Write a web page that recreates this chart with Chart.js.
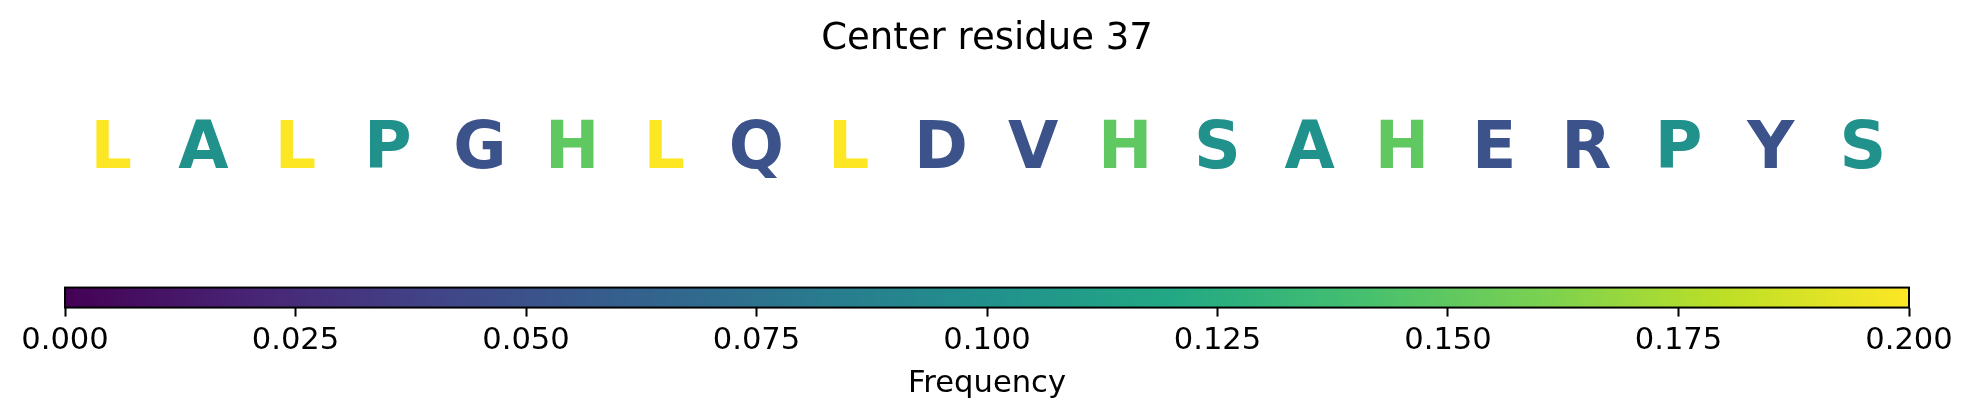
<!DOCTYPE html>
<html>
<head>
<meta charset="utf-8">
<script src="https://cdn.jsdelivr.net/npm/chart.js@4"></script>
<style>
  html, body { margin: 0; padding: 0; background: #fff; }
  canvas { display: block; }
</style>
</head>
<body>
<canvas id="logoChart" width="1973" height="416"></canvas>
<script>
// residues around center 37
const residues = ["L", "A", "L", "P", "G", "H", "L", "Q", "L", "D", "V", "H", "S", "A", "H", "E", "R", "P", "Y", "S"];
// frequency of each residue in the window
const frequencies = [0.2, 0.1, 0.2, 0.1, 0.05, 0.15, 0.2, 0.05, 0.2, 0.05, 0.05, 0.15, 0.1, 0.1, 0.15, 0.05, 0.05, 0.1, 0.05, 0.1];
const colorbarTicks = [0, 0.025, 0.05, 0.075, 0.1, 0.125, 0.15, 0.175, 0.2];
const vmin = 0;
const vmax = 0.2;

// viridis, 11 stops
const viridis = ["#440154", "#482475", "#414487", "#355f8d", "#2a788e", "#21918c", "#22a884", "#44bf70", "#7ad151", "#bddf26", "#fde725"];

function hexToRgb(h) {
  return [parseInt(h.slice(1, 3), 16), parseInt(h.slice(3, 5), 16), parseInt(h.slice(5, 7), 16)];
}

function viridisColor(t) {
  t = Math.max(0, Math.min(1, t));
  const pos = t * (viridis.length - 1);
  const i = Math.min(Math.floor(pos), viridis.length - 2);
  const f = pos - i;
  const a = hexToRgb(viridis[i]);
  const b = hexToRgb(viridis[i + 1]);
  const c = a.map((v, k) => Math.round(v + (b[k] - v) * f));
  return "rgb(" + c.join(",") + ")";
}

const letterPlugin = {
  id: "letters",
  afterDatasetsDraw(chart) {
    const ctx = chart.ctx;
    const meta = chart.getDatasetMeta(0);
    ctx.save();
    ctx.font = "bold 65px 'DejaVu Sans'";
    ctx.textAlign = "center";
    ctx.textBaseline = "alphabetic";
    meta.data.forEach((pt, i) => {
      ctx.fillStyle = viridisColor((frequencies[i] - vmin) / (vmax - vmin));
      ctx.fillText(residues[i], pt.x, pt.y);
    });
    ctx.restore();
  }
};

const colorbarPlugin = {
  id: "colorbar",
  afterDraw(chart) {
    const ctx = chart.ctx;
    const cb = chart.scales.cb;
    const x0 = cb.getPixelForValue(vmin);
    const x1 = cb.getPixelForValue(vmax);
    const bottom = chart.chartArea.bottom;
    const top = bottom - 20;
    const grad = ctx.createLinearGradient(x0, 0, x1, 0);
    viridis.forEach((c, i) => grad.addColorStop(i / (viridis.length - 1), c));
    ctx.save();
    ctx.fillStyle = grad;
    ctx.fillRect(x0, top, x1 - x0, bottom - top);
    ctx.strokeStyle = "#000";
    ctx.lineWidth = 2;
    ctx.strokeRect(x0, top, x1 - x0, bottom - top);
    ctx.restore();
  }
};

const ctx = document.getElementById("logoChart");
const logoChart = new Chart(ctx, {
  type: "scatter",
  data: {
    datasets: [
      {
        data: residues.map((r, i) => ({ x: i, y: 0 })),
        pointRadius: 0,
        pointHoverRadius: 0,
      },
    ],
  },
  options: {
    responsive: false,
    devicePixelRatio: 1,
    animation: false,
    layout: { padding: { left: 65, right: 64, top: 0, bottom: 10 } },
    plugins: {
      legend: { display: false },
      tooltip: { enabled: false },
      title: {
        display: true,
        text: "Center residue 37",
        color: "#000",
        font: { family: "'DejaVu Sans'", size: 37, weight: "normal" },
        padding: { top: 17, bottom: 10 },
      },
    },
    scales: {
      x: { type: "linear", min: -0.5, max: 19.5, display: false },
      y: { type: "linear", min: -1.446, max: 1, display: false },
      cb: {
        type: "linear",
        axis: "x",
        position: "bottom",
        min: vmin,
        max: vmax,
        afterBuildTicks(scale) {
          scale.ticks = colorbarTicks.map((v) => ({ value: v }));
        },
        ticks: {
          color: "#000",
          padding: 6,
          maxRotation: 0,
          autoSkip: false,
          font: { family: "'DejaVu Sans'", size: 30.6 },
          callback: (v) => Number(v).toFixed(3),
        },
        grid: {
          drawOnChartArea: false,
          drawTicks: true,
          tickLength: 9,
          tickWidth: 2,
          tickColor: "#000",
        },
        border: { display: false },
        title: {
          display: true,
          text: "Frequency",
          color: "#000",
          font: { family: "'DejaVu Sans'", size: 30.6 },
          padding: { top: 0, bottom: 4 },
        },
      },
    },
  },
  plugins: [letterPlugin, colorbarPlugin],
});
</script>
</body>
</html>
